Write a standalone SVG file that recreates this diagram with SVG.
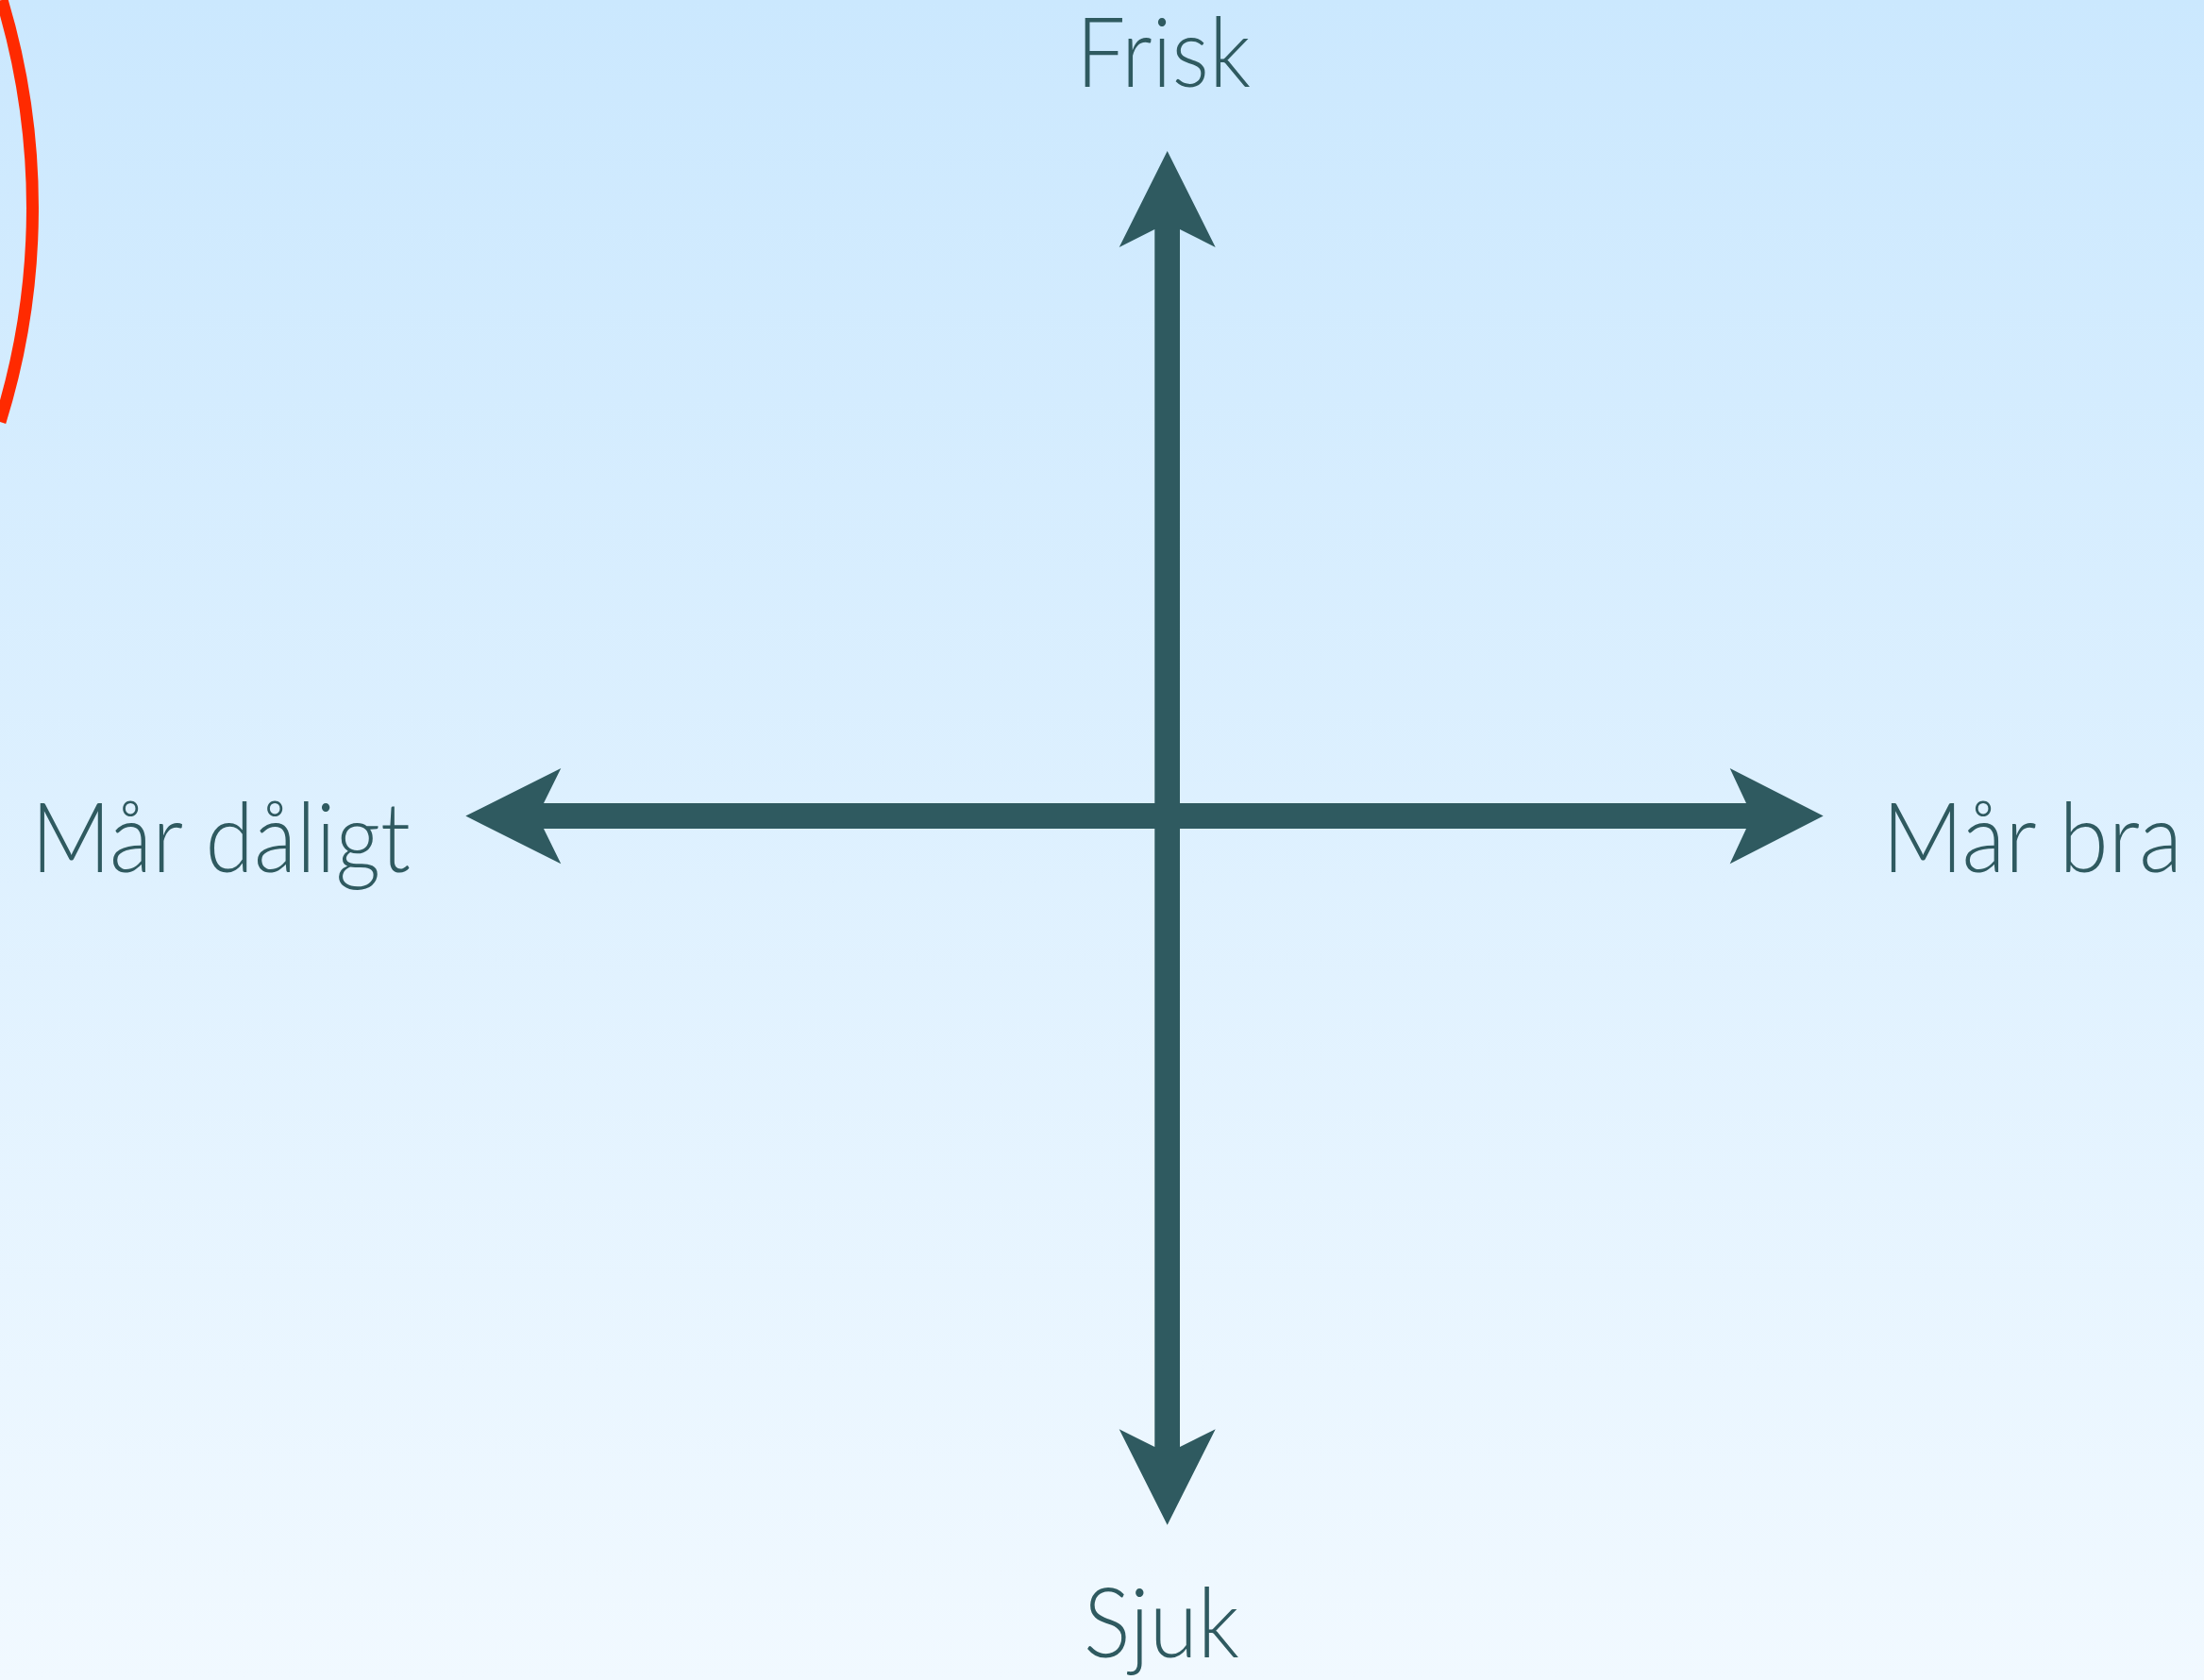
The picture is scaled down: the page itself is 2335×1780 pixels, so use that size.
<svg xmlns="http://www.w3.org/2000/svg" width="2335" height="1780" viewBox="0 0 2335 1780">
  <defs>
    <linearGradient id="bg" x1="0" y1="0" x2="0" y2="1">
      <stop offset="0" stop-color="#CBE8FE"/>
      <stop offset="1" stop-color="#F1F9FF"/>
    </linearGradient>
    <style>
      .lbl { font-family: Lato, "Open Sans", "Liberation Sans", sans-serif; font-weight: 300; font-size: 102px; fill: #2F5A60; }
      .arrow { fill: #2F5A60; }
    </style>
  </defs>
  <rect x="0" y="0" width="2335" height="1780" fill="url(#bg)"/>
  <path d="M 2,0 A 763 763 0 0 1 0,447" fill="none" stroke="#FF2A00" stroke-width="13"/>
  <g id="connectors">
    <path class="arrow" d="M1236.7,160 L1287.7,262 L1250,243 L1250,1533 L1287.7,1514.3 L1236.7,1615.7 L1185.7,1514.3 L1223.3,1533 L1223.3,243 L1185.7,262 Z"/>
    <path class="arrow" d="M493.3,864.5 L594.3,814 L576,851 L1850,851 L1832.7,814 L1931.7,864.5 L1832.7,915.3 L1850,878 L576,878 L594.3,915.3 Z"/>
  </g>
  <g id="frisk"><text class="lbl" x="1140" y="92" textLength="185" lengthAdjust="spacingAndGlyphs">Frisk</text></g>
  <g id="sjuk"><text class="lbl" x="1148" y="1756" textLength="165" lengthAdjust="spacingAndGlyphs">Sjuk</text></g>
  <g id="mar-daligt"><text class="lbl" x="33" y="924" textLength="402" lengthAdjust="spacingAndGlyphs">Mår dåligt</text></g>
  <g id="mar-bra"><text class="lbl" x="1994" y="924" textLength="318" lengthAdjust="spacingAndGlyphs">Mår bra</text></g>
</svg>
